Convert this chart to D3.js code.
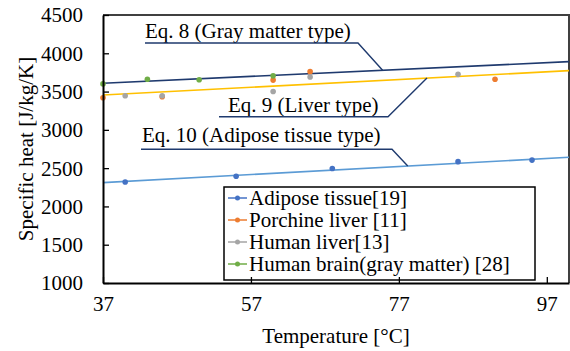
<!DOCTYPE html>
<html>
<head>
<meta charset="utf-8">
<script src="https://cdn.jsdelivr.net/npm/d3@7"></script>
<style>
  body { margin: 0; background: #fff; }
  svg text { font-family: "Liberation Serif", "Times New Roman", serif !important; fill: #000; }
</style>
</head>
<body>
<svg width="570" height="351"></svg>
<script>
// measured points
var adiposeT = [40, 55, 68, 85, 95],
    adiposeC = [2320, 2395, 2495, 2585, 2605];
var porcineT = [37, 45, 60, 65, 90],
    porcineC = [3420, 3432, 3650, 3760, 3660];
var humanLiverT = [40, 45, 60, 65, 85],
    humanLiverC = [3445, 3445, 3500, 3690, 3725];
var brainT = [37, 43, 50, 60],
    brainC = [3600, 3660, 3655, 3705];

// fitted equations, end points
var fitT = [37, 100];
var eq8C = [3609, 3891],
    eq9C = [3456, 3773],
    eq10C = [2311, 2642];

var xTicks = [37, 57, 77, 97];
var yTicks = [1000, 1500, 2000, 2500, 3000, 3500, 4000, 4500];

var seriesNames = ["Adipose tissue[19]", "Porchine liver [11]", "Human liver[13]", "Human brain(gray matter) [28]"];
var seriesColors = ["#4472C4", "#ED7D31", "#A5A5A5", "#70AD47"];

var svg = d3.select("svg"),
    margin = {top: 15, right: 1, bottom: 68, left: 103},
    width = svg.attr("width") - margin.left - margin.right,
    height = svg.attr("height") - margin.top - margin.bottom,
    g = svg.append("g").attr("transform", "translate(" + margin.left + "," + margin.top + ")");

var x = d3.scaleLinear().domain([37, 100]).range([0, width]);
var y = d3.scaleLinear().domain([1000, 4500]).range([height, 0]);

// plot frame (top/right)
g.append("path")
  .attr("d", "M0,0H" + width + "V" + height)
  .attr("fill", "none")
  .attr("stroke", "#404040")
  .attr("stroke-width", 2);

var line = d3.line()
  .x(function(d) { return x(d[0]); })
  .y(function(d) { return y(d[1]); });

function fitLine(vals, color) {
  g.append("path")
    .datum(d3.zip(fitT, vals))
    .attr("d", line)
    .attr("fill", "none")
    .attr("stroke", color)
    .attr("stroke-width", 1.6);
}
fitLine(eq10C, "#5B9BD5");
fitLine(eq9C, "#FFC000");
fitLine(eq8C, "#1F3A6E");

var series = [
  d3.zip(adiposeT, adiposeC),
  d3.zip(porcineT, porcineC),
  d3.zip(humanLiverT, humanLiverC),
  d3.zip(brainT, brainC)
];

series.forEach(function(pts, i) {
  g.append("g").selectAll("circle")
    .data(pts)
    .enter().append("circle")
      .attr("cx", function(d) { return x(d[0]); })
      .attr("cy", function(d) { return y(d[1]); })
      .attr("r", 2.8)
      .attr("fill", seriesColors[i]);
});

// callouts
function interp(vals, t) {
  return vals[0] + (vals[1] - vals[0]) * (t - fitT[0]) / (fitT[1] - fitT[0]);
}
var callouts = [
  {text: "Eq. 8 (Gray matter type)", tx: 42, ty: 23, ux0: 42, ux1: 255, uy: 28, t: 74.8, vals: eq8C},
  {text: "Eq. 9 (Liver type)", tx: 125, ty: 96.7, ux0: 116, ux1: 285, uy: 101.7, t: 80.8, vals: eq9C},
  {text: "Eq. 10 (Adipose tissue type)", tx: 39, ty: 126.7, ux0: 38, ux1: 289, uy: 134.3, t: 78.2, vals: eq10C}
];
callouts.forEach(function(c) {
  g.append("text")
    .attr("x", c.tx)
    .attr("y", c.ty)
    .attr("font-size", 21)
    .text(c.text);
  g.append("path")
    .attr("d", "M" + c.ux0 + "," + c.uy + "H" + c.ux1 + "L" + x(c.t) + "," + y(interp(c.vals, c.t)))
    .attr("fill", "none")
    .attr("stroke", "#1F3A6E")
    .attr("stroke-width", 1.4);
});

// legend
var legend = g.append("g").attr("transform", "translate(121,172)");
legend.append("rect")
  .attr("width", 311)
  .attr("height", 93)
  .attr("fill", "#fff")
  .attr("stroke", "#000")
  .attr("stroke-width", 1.5);
var item = legend.selectAll("g.item")
  .data(seriesNames)
  .enter().append("g")
    .attr("class", "item")
    .attr("transform", function(d, i) { return "translate(0," + (11 + i * 22) + ")"; });
item.append("line")
  .attr("x1", 4).attr("x2", 23)
  .attr("stroke", function(d, i) { return seriesColors[i]; })
  .attr("stroke-width", 1.5);
item.append("circle")
  .attr("cx", 13.5)
  .attr("r", 2.5)
  .attr("fill", function(d, i) { return seriesColors[i]; });
item.append("text")
  .attr("x", 25)
  .attr("y", 7)
  .attr("font-size", 21)
  .text(function(d) { return d; });

// axes
var xAxis = g.append("g")
  .attr("transform", "translate(0," + height + ")")
  .call(d3.axisBottom(x).tickValues(xTicks).tickFormat(d3.format("d"))
    .tickSizeInner(-6).tickSizeOuter(0).tickPadding(13));
var yAxis = g.append("g")
  .call(d3.axisLeft(y).tickValues(yTicks).tickFormat(d3.format("d"))
    .tickSizeInner(-6).tickSizeOuter(0).tickPadding(20));
[xAxis, yAxis].forEach(function(a) {
  a.attr("font-family", null).attr("font-size", 21);
  a.select(".domain").attr("stroke", "#000").attr("stroke-width", 2);
  a.selectAll(".tick line").attr("stroke", "#000").attr("stroke-width", 1.3);
  a.selectAll(".tick text").attr("fill", "#000");
});
yAxis.selectAll(".tick text").attr("dy", "0.33em");
xAxis.selectAll(".tick text").attr("dy", "0.71em");

// axis titles
svg.append("text")
  .attr("x", margin.left + width / 2)
  .attr("y", 343)
  .attr("text-anchor", "middle")
  .attr("font-size", 21)
  .text("Temperature [°C]");
svg.append("text")
  .attr("transform", "translate(33," + (margin.top + height / 2) + ") rotate(-90)")
  .attr("text-anchor", "middle")
  .attr("font-size", 21)
  .text("Specific heat [J/kg/K]");
</script>
</body>
</html>
